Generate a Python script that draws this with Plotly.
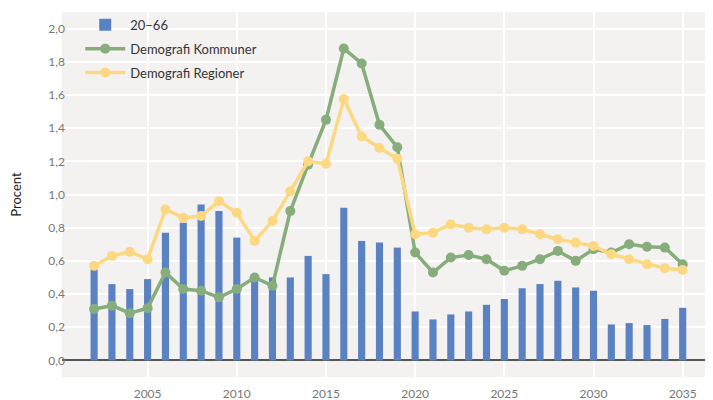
import plotly.graph_objects as go

years = list(range(2002, 2036))
bars_20_66 = [0.55, 0.46, 0.43, 0.49, 0.77, 0.83, 0.94, 0.90, 0.74, 0.49, 0.50,
              0.50, 0.63, 0.52, 0.92, 0.72, 0.71, 0.68, 0.295, 0.247, 0.277, 0.295,
              0.335, 0.37, 0.435, 0.46, 0.48, 0.44, 0.42, 0.217, 0.225, 0.213, 0.25, 0.317]
kommuner = [0.31, 0.33, 0.285, 0.315, 0.53, 0.43, 0.42, 0.38, 0.43, 0.50, 0.45,
            0.90, 1.18, 1.45, 1.88, 1.79, 1.42, 1.285, 0.65, 0.53, 0.62, 0.635,
            0.61, 0.54, 0.57, 0.61, 0.66, 0.60, 0.67, 0.65, 0.70, 0.685, 0.68, 0.58]
regioner = [0.57, 0.63, 0.655, 0.61, 0.91, 0.86, 0.87, 0.96, 0.89, 0.72, 0.84,
            1.02, 1.20, 1.185, 1.575, 1.35, 1.28, 1.215, 0.76, 0.77, 0.82, 0.80,
            0.79, 0.80, 0.79, 0.76, 0.73, 0.71, 0.69, 0.64, 0.61, 0.58, 0.555, 0.545]
tick_years = [2005, 2010, 2015, 2020, 2025, 2030, 2035]
y_ticks = [0.0, 0.2, 0.4, 0.6, 0.8, 1.0, 1.2, 1.4, 1.6, 1.8, 2.0]

BLUE = "#5a82c2"
GREEN = "#86ad7b"
YELLOW = "#fdd883"

fig = go.Figure()
fig.add_trace(go.Bar(x=years, y=bars_20_66, name="20–66", marker_color=BLUE,
                     width=0.4, marker_line_width=0, legendgroup="a"))
fig.add_trace(go.Scatter(x=years, y=kommuner, name="Demografi Kommuner",
                         mode="lines+markers", line=dict(color=GREEN, width=3.5),
                         marker=dict(color=GREEN, size=10), legendgroup="b"))
fig.add_trace(go.Scatter(x=years, y=regioner, name="Demografi Regioner",
                         mode="lines+markers", line=dict(color=YELLOW, width=3.5),
                         marker=dict(color=YELLOW, size=10), legendgroup="c"))

fig.update_layout(
    width=705, height=392,
    margin=dict(l=54, r=0, t=4, b=23, autoexpand=False),
    paper_bgcolor="white",
    plot_bgcolor="#f3f2f0",
    separators=",.",
    font=dict(family="Lato, sans-serif", color="#333333"),
    showlegend=True,
    legend=dict(x=0.028, y=1.006, xanchor="left", yanchor="top",
                bgcolor="rgba(0,0,0,0)", font=dict(size=13, color="#333333"),
                tracegroupgap=4, itemwidth=40, traceorder="grouped"),
    xaxis=dict(range=[2000.2, 2036.7], tickvals=tick_years, automargin=False,
               showgrid=True, gridcolor="white", gridwidth=1.5,
               zeroline=False, ticks="", ticklen=0, ticklabelstandoff=8,
               tickfont=dict(size=12, color="#777777"), showline=False),
    yaxis=dict(range=[-0.1, 2.1], tickvals=y_ticks, tickformat=".1f", automargin=False,
               showgrid=True, gridcolor="white", gridwidth=1.5,
               zeroline=True, zerolinecolor="#555555", zerolinewidth=1.5,
               ticks="", ticklen=0, ticklabelstandoff=-4,
               tickfont=dict(size=12, color="#777777"),
               title=dict(text="Procent", font=dict(size=13, color="#222222"), standoff=30)),
)

fig.write_html("out.html")
